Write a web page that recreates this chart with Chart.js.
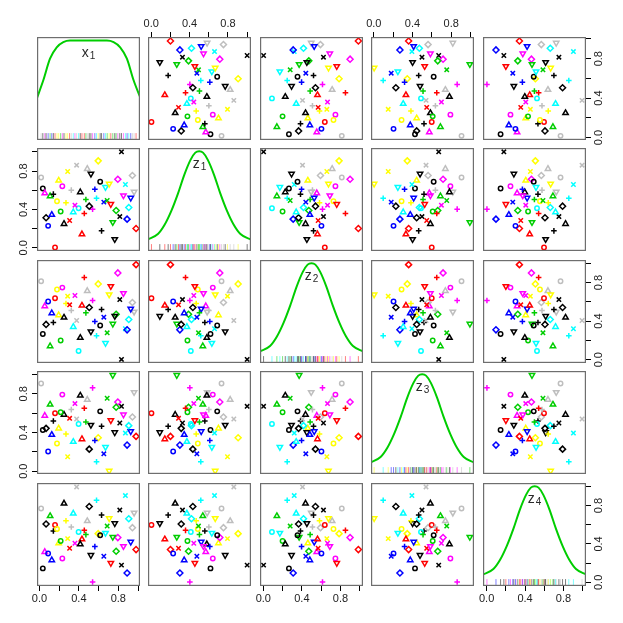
<!DOCTYPE html>
<html>
<head>
<meta charset="utf-8">
<script src="https://cdn.jsdelivr.net/npm/chart.js@4.4.1/dist/chart.umd.min.js"></script>
<style>
  html, body { margin: 0; padding: 0; background: #fff; }
  #wrap { position: relative; width: 623px; height: 623px; overflow: hidden; }
  #wrap canvas { position: absolute; }
</style>
</head>
<body>
<div id="wrap"></div>
<script>
// Scatterplot matrix of x1, z1..z4 (54 observations)

const x1 = [0.017, 0.034, 0.054, 0.108, 0.141, 0.195, 0.232, 0.286, 0.377, 0.485, 0.522, 0.596, 0.832, 0.943, 0.795, 0.872, 0.960, 0.926,
  0.906, 0.815, 0.889, 0.980, 0.778, 0.744, 0.764, 0.630, 0.431, 0.158, 0.088, 0.249, 0.067, 0.125, 0.215, 0.178, 0.269, 0.306,
  0.343, 0.397, 0.360, 0.323, 0.414, 0.471, 0.455, 0.539, 0.505, 0.579, 0.562, 0.616, 0.670, 0.707, 0.653, 0.687, 0.724, 0.852];
const z1 = [0.733, 0.618, 0.569, 0.538, 0.559, 0.701, 0.642, 0.795, 0.861, 0.823, 0.771, 0.906, 1.000, 0.753, 0.715, 0.660, 0.583, 0.521,
  0.420, 0.326, 0.299, 0.201, 0.389, 0.267, 0.090, 0.177, 0.142, 0.003, 0.229, 0.250, 0.313, 0.344, 0.378, 0.486, 0.469, 0.285,
  0.372, 0.413, 0.444, 0.601, 0.580, 0.503, 0.358, 0.403, 0.434, 0.517, 0.611, 0.688, 0.632, 0.667, 0.476, 0.493, 0.455, 0.545];
const z2 = [0.814, 0.266, 0.555, 0.141, 0.386, 0.462, 0.748, 0.659, 0.407, 0.714, 0.293, 0.786, 0.003, 0.593, 0.900, 0.321, 0.497, 0.528,
  0.417, 0.624, 0.310, 0.986, 0.472, 0.372, 0.452, 0.521, 0.562, 0.638, 0.603, 0.438, 0.366, 0.483, 0.200, 0.728, 0.583, 0.569,
  0.341, 0.090, 0.666, 0.510, 0.228, 0.486, 0.852, 0.614, 0.541, 0.248, 0.397, 0.355, 0.172, 0.676, 0.441, 0.279, 0.762, 0.690];
const z3 = [0.907, 0.426, 0.574, 0.689, 0.519, 0.443, 0.792, 0.149, 0.540, 0.740, 0.478, 0.346, 0.671, 0.561, 0.716, 0.394, 0.817, 0.412,
  0.471, 0.498, 0.270, 0.360, 0.661, 0.993, 0.401, 0.464, 0.332, 0.599, 0.204, 0.585, 0.443, 0.377, 0.609, 0.287, 0.384, 0.547,
  0.304, 0.488, 0.699, 0.637, 0.782, 0.509, 0.651, 0.862, 0.228, 0.097, 0.318, 0.619, 0.249, 0.003, 0.180, 0.754, 0.526, 0.585];
const z4 = [0.769, 0.145, 0.317, 0.690, 0.534, 0.407, 0.248, 0.455, 0.993, 0.638, 0.283, 0.507, 0.179, 0.569, 0.466, 0.903, 0.724, 0.421,
  0.662, 0.752, 0.097, 0.341, 0.324, 0.472, 0.614, 0.700, 0.448, 0.597, 0.300, 0.821, 0.607, 0.231, 0.431, 0.555, 0.641, 0.355,
  0.717, 0.524, 0.407, 0.576, 0.397, 0.497, 0.541, 0.003, 0.790, 0.855, 0.372, 0.490, 0.514, 0.666, 0.272, 0.586, 0.200, 0.376];

// R palette index and plotting symbol of each observation
const colIdx = [8, 1, 6, 3, 1, 7, 6, 7, 8, 8, 1, 7, 1, 8, 6, 5, 8, 4, 5, 1, 4, 2, 3, 3, 1, 1, 2, 2, 4, 1, 1, 4, 3, 7, 7, 2,
  5, 5, 6, 8, 1, 3, 2, 6, 1, 5, 4, 1, 5, 7, 4, 3, 2, 6];
const pchCode = [1, 1, 2, 2, 3, 2, 1, 4, 4, 2, 6, 5, 4, 5, 5, 4, 6, 6, 5, 4, 5, 5, 5, 6, 6, 3, 2, 1, 1, 2, 5, 2, 1, 1, 3, 4,
  2, 1, 4, 3, 2, 3, 3, 3, 5, 3, 3, 1, 6, 6, 4, 4, 6, 6];

const varSymbol = ["x", "z", "z", "z", "z"];
const varSub = ["1", "1", "2", "3", "4"];

const tickValues = [0, 0.2, 0.4, 0.6, 0.8, 1.0];
const tickLabelled = [0, 0.4, 0.8];

// density curves on the diagonal (height as share of the panel)
const x1DensX = [-0.03, 0.039, 0.107, 0.175, 0.242, 0.31, 0.497, 0.684, 0.752, 0.819, 0.887, 0.955, 1.03];
const x1DensY = [0.395, 0.58, 0.79, 0.9, 0.95, 0.965, 0.965, 0.965, 0.95, 0.9, 0.79, 0.58, 0.395];
const zDensX = [-0.04, 0.07, 0.14, 0.21, 0.28, 0.345, 0.41, 0.46, 0.5, 0.54, 0.59, 0.655, 0.72, 0.79, 0.86, 0.93, 1.04];
const zDensY = [0.11, 0.165, 0.255, 0.39, 0.56, 0.74, 0.885, 0.955, 0.968, 0.955, 0.885, 0.74, 0.56, 0.39, 0.255, 0.165, 0.11];

// ---- layout / style ----
const PANEL = [37, 148, 260, 371, 483];
const SIZE = 103;
const AX = 36;
const EXT = 14;
const FONT = '"Liberation Sans", Arial, Helvetica, sans-serif';
const RUG_Y = 0.034;
const palette = ["#000000", "#FF0000", "#00CD00", "#0000FF", "#00FFFF", "#FF00FF", "#FFFF00", "#BEBEBE"];
const axisMin = [-0.025, -0.033, -0.034, -0.029, -0.038];
const axisMax = [1.02, 1.04, 1.034, 1.036, 1.034];

const vars = [x1, z1, z2, z3, z4];
const dens = [[x1DensX, x1DensY], [zDensX, zDensY], [zDensX, zDensY], [zDensX, zDensY], [zDensX, zDensY]];

function markStyle(p) {
  switch (p) {
    case 1: return { style: "circle", r: 2.2, rot: 0 };
    case 2: return { style: "triangle", r: 3.1, rot: 0 };
    case 3: return { style: "cross", r: 2.8, rot: 0 };
    case 4: return { style: "crossRot", r: 3.1, rot: 0 };
    case 5: return { style: "rectRot", r: 3.0, rot: 0 };
    default: return { style: "triangle", r: 3.1, rot: 180 };
  }
}

function withAlpha(hex, a) {
  const n = parseInt(hex.slice(1), 16);
  return `rgba(${(n >> 16) & 255}, ${(n >> 8) & 255}, ${n & 255}, ${a})`;
}

const marks = pchCode.map(markStyle);
const pointColors = colIdx.map((c) => palette[c - 1]);
const rugColors = pointColors.map((c) => withAlpha(c, 0.5));

const panelBox = {
  id: "panelBox",
  afterDraw(chart, args, opts) {
    const { ctx, chartArea: a } = chart;
    ctx.save();
    ctx.strokeStyle = "#6e6e6e";
    ctx.lineWidth = 1.2;
    ctx.strokeRect(a.left + 0.6, a.top + 0.6, a.right - a.left - 1.2, a.bottom - a.top - 1.2);
    if (opts.sym) {
      ctx.fillStyle = "#2a2a2a";
      ctx.textBaseline = "alphabetic";
      ctx.font = `14px ${FONT}`;
      const w1 = ctx.measureText(opts.sym).width;
      ctx.font = `10px ${FONT}`;
      const w2 = ctx.measureText(opts.sub).width;
      const x0 = (a.left + a.right) / 2 - (w1 + w2 + 1) / 2;
      ctx.font = `14px ${FONT}`;
      ctx.fillText(opts.sym, x0, a.top + 19.5);
      ctx.font = `10px ${FONT}`;
      ctx.fillText(opts.sub, x0 + w1 + 1, a.top + 22);
    }
    ctx.restore();
  },
};

function axis(show, pos, min, max, vertical) {
  return {
    type: "linear",
    min: min,
    max: max,
    display: show,
    position: pos,
    afterBuildTicks: (s) => {
      s.ticks = tickValues.map((v) => ({ value: v }));
    },
    afterFit: (s) => {
      if (!show) return;
      if (vertical) s.width = AX;
      else s.height = AX;
      s.paddingLeft = s.paddingRight = s.paddingTop = s.paddingBottom = 0;
    },
    grid: { display: show, drawOnChartArea: false, drawTicks: true, tickLength: 5, color: "#000", lineWidth: 1 },
    border: { display: false },
    ticks: {
      autoSkip: false,
      padding: vertical ? 0 : 1.5,
      color: "#222",
      font: { family: FONT, size: 11 },
      minRotation: vertical ? 90 : 0,
      maxRotation: vertical ? 90 : 0,
      crossAlign: vertical ? "center" : "near",
      callback: (v) => (tickLabelled.some((t) => Math.abs(t - v) < 1e-9) ? v.toFixed(1) : ""),
    },
  };
}

const wrap = document.getElementById("wrap");

for (let r = 0; r < 5; r++) {
  for (let c = 0; c < 5; c++) {
    const hasBottom = r === 4 && c % 2 === 0;
    const hasTop = r === 0 && c % 2 === 1;
    const hasLeft = c === 0 && r % 2 === 1;
    const hasRight = c === 4 && r % 2 === 0;
    const anyAxis = hasBottom || hasTop || hasLeft || hasRight;

    // room for tick labels that stick out past the panel edges
    const pad = {
      left: anyAxis && !hasLeft ? EXT : 0,
      right: anyAxis && !hasRight ? EXT : 0,
      top: anyAxis && !hasTop ? EXT : 0,
      bottom: anyAxis && !hasBottom ? EXT : 0,
    };
    const offL = (hasLeft ? AX : 0) + pad.left;
    const offT = (hasTop ? AX : 0) + pad.top;
    const w = SIZE + offL + (hasRight ? AX : 0) + pad.right;
    const h = SIZE + offT + (hasBottom ? AX : 0) + pad.bottom;

    const canvas = document.createElement("canvas");
    canvas.width = w;
    canvas.height = h;
    canvas.style.width = w + "px";
    canvas.style.height = h + "px";
    canvas.style.left = PANEL[c] - offL + "px";
    canvas.style.top = PANEL[r] - offT + "px";
    wrap.appendChild(canvas);

    const scales = {
      x: axis(hasBottom || hasTop, hasTop ? "top" : "bottom", axisMin[c], axisMax[c], false),
      y: axis(hasLeft || hasRight, hasRight ? "right" : "left", axisMin[r], axisMax[r], true),
    };

    let datasets;
    let boxOpts = {};
    if (r === c) {
      scales.yd = { type: "linear", min: 0, max: 1, display: false };
      const [dx, dy] = dens[r];
      datasets = [
        {
          data: vars[r].map((v) => ({ x: v, y: RUG_Y })),
          yAxisID: "yd",
          pointStyle: "line",
          pointRotation: 90,
          pointRadius: 3.4,
          pointBorderWidth: 1,
          pointBorderColor: rugColors,
          borderColor: rugColors,
        },
        {
          data: dx.map((x, k) => ({ x: x, y: dy[k] })),
          yAxisID: "yd",
          showLine: true,
          cubicInterpolationMode: "monotone",
          borderColor: "#00CD00",
          borderWidth: 2,
          pointRadius: 0,
          fill: false,
        },
      ];
      boxOpts = { sym: varSymbol[r], sub: varSub[r] };
    } else {
      datasets = [
        {
          data: vars[c].map((v, k) => ({ x: v, y: vars[r][k] })),
          pointStyle: marks.map((m) => m.style),
          pointRadius: marks.map((m) => m.r),
          pointRotation: marks.map((m) => m.rot),
          pointBorderColor: pointColors,
          pointBackgroundColor: "rgba(0,0,0,0)",
          pointBorderWidth: 1.5,
          borderColor: pointColors,
          backgroundColor: "rgba(0,0,0,0)",
        },
      ];
    }

    new Chart(canvas, {
      type: "scatter",
      data: { datasets: datasets },
      options: {
        responsive: false,
        animation: false,
        devicePixelRatio: 1,
        events: [],
        layout: { padding: pad, autoPadding: false },
        scales: scales,
        plugins: {
          legend: { display: false },
          tooltip: { enabled: false },
          panelBox: boxOpts,
        },
      },
      plugins: [panelBox],
    });
  }
}
</script>
</body>
</html>
